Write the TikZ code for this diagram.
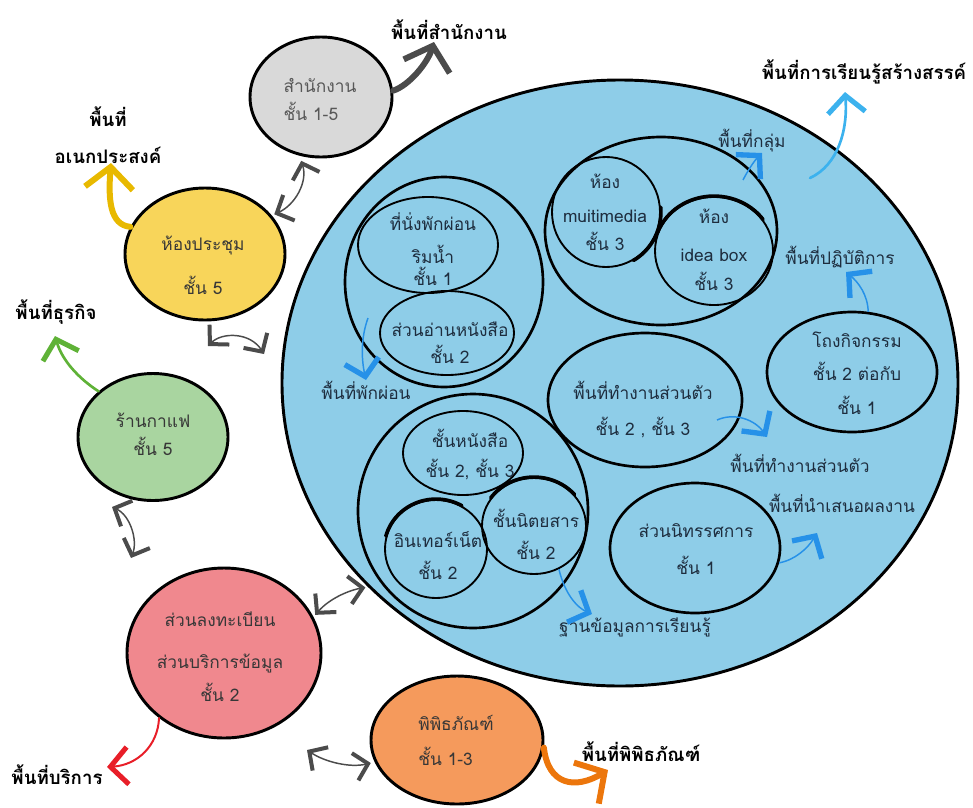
\documentclass[tikz,border=0pt]{standalone}
\usepackage{fontspec}
\setmainfont[Script=Thai]{Loma}
\usetikzlibrary{arrows.meta,shapes.geometric}
\definecolor{bigblue}{RGB}{142,205,232}
\definecolor{greyfill}{RGB}{217,217,217}
\definecolor{yellowfill}{RGB}{248,213,90}
\definecolor{greenfill}{RGB}{169,213,160}
\definecolor{pinkfill}{RGB}{240,136,142}
\definecolor{orangefill}{RGB}{245,154,92}
\definecolor{navy}{RGB}{30,45,62}
\definecolor{darktext}{RGB}{55,55,55}
\definecolor{officetext}{RGB}{88,88,88}
\definecolor{arrgrey}{RGB}{75,75,75}
\definecolor{arrblue}{RGB}{38,145,232}
\definecolor{arrlblue}{RGB}{60,178,238}
\definecolor{arryellow}{RGB}{232,185,0}
\definecolor{arrgreen}{RGB}{95,178,55}
\definecolor{arrred}{RGB}{232,30,40}
\definecolor{arrorange}{RGB}{236,118,12}
\begin{document}
\begin{tikzpicture}[x=0.75pt,y=-0.75pt,
  zone/.style={ellipse,draw=black,line width=2.2pt,inner sep=0pt},
  grp/.style={ellipse,draw=black,line width=2pt,inner sep=0pt},
  sub/.style={ellipse,draw=black,line width=1.4pt,inner sep=0pt},
  sz/.style 2 args={minimum width=#1*0.75pt,minimum height=#2*0.75pt},
  itext/.style={align=center,font=\fontsize{13}{16}\selectfont,text=navy,inner sep=0pt,execute at begin node={\lineskiplimit=-100pt}},
  otext/.style={align=center,font=\fontsize{13}{16}\selectfont,text=darktext,inner sep=0pt,execute at begin node={\lineskiplimit=-100pt}},
  lbl/.style={align=center,font=\bfseries\fontsize{14}{17}\selectfont,text=black,inner sep=0pt,execute at begin node={\lineskiplimit=-100pt}},
  ilbl/.style={font=\fontsize{13}{16}\selectfont,text=navy,inner sep=0pt},
  outthick/.style={line width=4.5pt,line cap=round,-{Straight Barb[length=16pt,width=36pt,line width=4.5pt]}},
  outthin/.style={line width=2pt,line cap=round,-{Straight Barb[length=13pt,width=28pt,line width=3.8pt]}},
  inarr/.style={draw=arrblue,line width=1.1pt,-{Straight Barb[length=12pt,width=26pt,line width=4pt]}},
  dbl/.style={draw=arrgrey,line width=1.1pt,{Straight Barb[length=10pt,width=21pt,line width=3pt]}-{Straight Barb[length=10pt,width=21pt,line width=3pt]}},
  crescent/.style={line width=2.6pt,line cap=round}
]
\useasboundingbox (0,0) rectangle (973,807);

% big learning area
\node[zone,fill=bigblue,sz={676}{606}] (big) at (620,383) {};

% group 1
\node[grp,sz={198}{210}] (g1) at (444,282) {};
\node[sub,sz={140}{96}] (rest) at (428,245) {};
\node[sub,sz={134}{84}] (read) at (447,333) {};
% group 2
\node[grp,sz={232}{188}] (g2) at (661,231) {};
\node[sub,sz={108}{110}] (multi) at (606,212) {};
\node[sub,sz={118}{108}] (idea) at (714,251) {};
% others
\node[grp,sz={170}{120}] (hall) at (852,372) {};
\node[grp,sz={194}{134}] (work) at (645,400) {};
\node[grp,sz={170}{130}] (exhibit) at (695,548) {};
% group 3
\node[grp,sz={230}{234}] (g3) at (473,511) {};
\node[sub,sz={120}{84}] (books) at (463,453) {};
\node[sub,sz={102}{98}] (inet) at (436,549) {};
\node[sub,sz={104}{96}] (mag) at (534,526) {};

% sketchy crescents
\draw[crescent] plot[domain=160:35,samples=30] ({714+60*cos(\x)},{251-55*sin(\x)});
\draw[crescent] plot[domain=165:60,samples=30] ({436+52*cos(\x)},{549-50*sin(\x)});
\draw[crescent] plot[domain=145:40,samples=30] ({534+53*cos(\x)},{526-49*sin(\x)});
\draw[crescent] plot[domain=5:-60,samples=30] ({606+55*cos(\x)},{212-56*sin(\x)});

% inner texts
\node[itext] (restT) at (433,249) {ที่นั่งพักผ่อน\\[8.75pt]ริมน้ำ\\[0pt]ชั้น 1};
\node[itext] (readT) at (450,343) {ส่วนอ่านหนังสือ\\[4.25pt]ชั้น 2};
\node[itext] (multiT) at (605,212) {ห้อง\\[9.5pt]muitimedia\\[5pt]ชั้น 3};
\node[itext] (ideaT) at (714,250) {ห้อง\\[12.5pt]idea box\\[5.75pt]ชั้น 3};
\node[itext] (hallT) at (857,373) {โถงกิจกรรม\\[8.75pt]ชั้น 2 ต่อกับ\\[9.5pt]ชั้น 1};
\node[itext] (workT) at (643,410) {พื้นที่ทำงานส่วนตัว\\[11pt]ชั้น 2 , ชั้น 3};
\node[itext] (exhibitT) at (696,549) {ส่วนนิทรรศการ\\[11.75pt]ชั้น 1};
\node[itext] (booksT) at (470,455) {ชั้นหนังสือ\\[6.5pt]ชั้น 2, ชั้น 3};
\node[itext] (inetT) at (438,556) {อินเทอร์เน็ต\\[8pt]ชั้น 2};
\node[itext] (magT) at (536,534) {ชั้นนิตยสาร\\[8pt]ชั้น 2};

% inner labels
\node[ilbl] (lRest) at (366,390) {พื้นที่พักผ่อน};
\node[ilbl] (lGroup) at (752,141) {พื้นที่กลุ่ม};
\node[ilbl] (lLab) at (840,257) {พื้นที่ปฏิบัติการ};
\node[ilbl] (lWork) at (800,463) {พื้นที่ทำงานส่วนตัว};
\node[ilbl] (lPresent) at (842,503) {พื้นที่นำเสนอผลงาน};
\node[ilbl] (lDb) at (635,627) {ฐานข้อมูลการเรียนรู้};

% outer zones
\node[zone,fill=greyfill,sz={142}{120}] (office) at (321,97) {};
\node[otext,text=officetext,align=left] (officeT) at (320,99) {สำนักงาน\\[5pt]ชั้น 1-5};
\node[zone,fill=yellowfill,sz={160}{132}] (yellow) at (205,254) {};
\node[otext] (yellowT) at (203,265) {ห้องประชุม\\[17pt]ชั้น 5};
\node[zone,fill=greenfill,sz={150}{127}] (cafe) at (153,437) {};
\node[otext] (cafeT) at (153,434) {ร้านกาแฟ\\[5pt]ชั้น 5};
\node[zone,fill=pinkfill,sz={194}{170}] (pink) at (224,653) {};
\node[otext] (pinkT) at (220,657) {ส่วนลงทะเบียน\\[15.5pt]ส่วนบริการข้อมูล\\[8.75pt]ชั้น 2};
\node[zone,fill=orangefill,sz={172}{128}] (orange) at (457,740) {};
\node[otext,align=left] (orangeT) at (456,740) {พิพิธภัณฑ์\\[10.25pt]ชั้น 1-3};

% outer labels
\node[lbl] (lOffice) at (449,30) {พื้นที่สำนักงาน};
\node[lbl] (lMulti) at (108,135) {พื้นที่\\[10.25pt]อเนกประสงค์};
\node[lbl] (lBiz) at (56,312) {พื้นที่ธุรกิจ};
\node[lbl] (lService) at (57,775) {พื้นที่บริการ};
\node[lbl] (lMuseum) at (641,752) {พื้นที่พิพิธภัณฑ์};
\node[lbl] (lCreative) at (864,72) {พื้นที่การเรียนรู้สร้างสรรค์};

% arrow end points
\coordinate (tOffice) at (434,42);
\coordinate (tMulti) at (111,163);
\coordinate (tBiz) at (55,336);
\coordinate (tService) at (107,767);
\coordinate (tMuseum) at (608,770);
\coordinate (sCreative) at (810,178);
\coordinate (tCreative) at (845,92);
\coordinate (sRest) at (368,318);
\coordinate (tRest) at (366,380);
\coordinate (sGroup) at (743,180);
\coordinate (tGroup) at (762,153);
\coordinate (tLab) at (846,272);
\coordinate (sWork) at (717,420);
\coordinate (tWork) at (767,437);
\coordinate (tPresent) at (817,533);
\coordinate (tDb) at (592,614);
\coordinate (dA) at (208,346);
\coordinate (dB) at (264,354);
\coordinate (dC) at (112,507);
\coordinate (dD) at (131,558);
\coordinate (dE) at (307,750);

% outgoing arrows
\draw[outthick,draw=arrgrey] (office.5) .. controls (410,85) and (428,62) .. (tOffice);
\draw[outthick,draw=arryellow] (yellow.160) .. controls (110,225) and (108,200) .. (tMulti);
\draw[outthin,draw=arrgreen] (cafe.140) .. controls (78,378) and (62,360) .. (tBiz);
\draw[outthin,draw=arrred,line width=1.5pt] (pink.225) .. controls (158,745) and (138,765) .. (tService);
\draw[outthick,draw=arrorange] (orange.-5) .. controls (548,785) and (575,790) .. (tMuseum);
\draw[outthin,draw=arrlblue] (sCreative) .. controls (838,165) and (848,130) .. (tCreative);

% inner arrows
\draw[inarr] (sRest) .. controls (360,340) and (362,362) .. (tRest);
\draw[inarr] (sGroup) .. controls (748,170) and (755,160) .. (tGroup);
\draw[inarr] (hall.75) .. controls (868,295) and (858,282) .. (tLab);
\draw[inarr] (sWork) .. controls (735,412) and (755,420) .. (tWork);
\draw[inarr] (exhibit.-10) .. controls (795,560) and (808,548) .. (tPresent);
\draw[inarr] (mag.-60) .. controls (565,595) and (578,608) .. (tDb);

% two-way links
\draw[dbl,shorten <=2pt,shorten >=4pt] (yellow.30) .. controls (295,205) and (308,182) .. (office.250);
\draw[dbl] (dA) .. controls (222,332) and (250,332) .. (dB);
\draw[dbl] (dC) .. controls (130,515) and (138,540) .. (dD);
\draw[dbl,shorten <=2pt,shorten >=2pt] (pink.22) .. controls (330,598) and (350,590) .. (big.219);
\draw[dbl,shorten >=3pt] (dE) .. controls (325,762) and (350,768) .. (orange.195);
\end{tikzpicture}
\end{document}
